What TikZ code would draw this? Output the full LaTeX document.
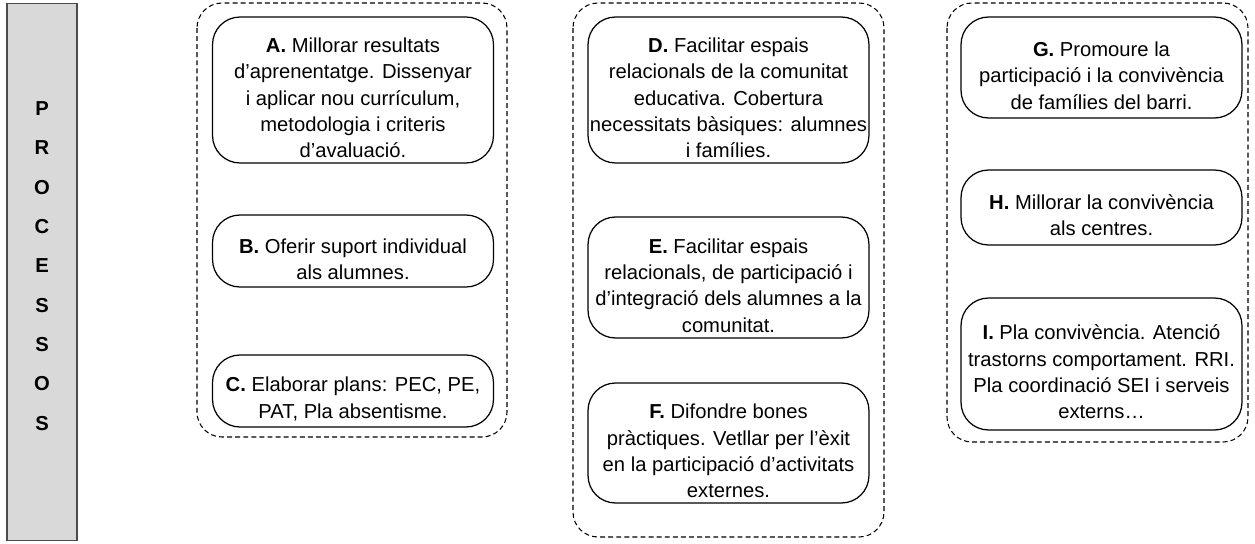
\documentclass[tikz,border=0pt]{standalone}
\usepackage{fontspec}
\setmainfont{Liberation Sans}
\usetikzlibrary{positioning}
\colorlet{colorBAR}{black!15}
\colorlet{colorBARLINE}{black!70}
\newcommand{\tag}[1]{\rule{0pt}{17.5pt}\textbf{#1.}}
\tikzset{
   every path/.style={>=stealth},
   proc/.style={draw, rounded corners=0.55cm, line width=0.7pt, align=center,
      minimum width=5.62cm, inner sep=1pt, font=\fontsize{11.5}{15}\selectfont},
   grp/.style={draw, dash pattern=on 2.8pt off 1.8pt, rounded corners=0.5cm, line width=0.6pt},
   bar/.style={draw=colorBARLINE, fill=colorBAR, line width=0.6pt,
      minimum width=1.4cm, minimum height=10.76cm, inner sep=0pt},
   barlbl/.style={align=center, font=\fontsize{11.5}{22.4}\selectfont\bfseries},
}

\begin{document}
\begin{tikzpicture}[x=0.02cm, y=-0.02cm]
    \useasboundingbox (0,0) rectangle (1255,544);

    % side bar
    \node (bar) [bar] at (42,272) {};
    \node (procs) [barlbl] at (42,266)
       {P\\R\\O\\C\\E\\S\\S\\O\\S};

    % groups
    \draw [grp] (197,3) rectangle (507,437);
    \draw [grp] (573,3) rectangle (884,537);
    \draw [grp] (947,3) rectangle (1248,442);

    % first column
    \node (A) [proc, minimum height=2.92cm] at (353,90)
       {\tag{A} Millorar resultats\\d’aprenentatge. Dissenyar\\i aplicar nou currículum,\\metodologia i criteris\\d’avaluació.};
    \node (B) [proc, minimum height=1.44cm] at (353,251)
       {\tag{B} Oferir suport individual\\als alumnes.};
    \node (C) [proc, minimum height=1.44cm] at (353,391)
       {\tag{C} Elaborar plans: PEC, PE,\\PAT, Pla absentisme.};

    % second column
    \node (D) [proc, minimum height=2.92cm] at (728.5,90)
       {\tag{D} Facilitar espais\\relacionals de la comunitat\\educativa. Cobertura\\necessitats bàsiques: alumnes\\i famílies.};
    \node (E) [proc, minimum height=2.42cm] at (728.5,277.5)
       {\tag{E} Facilitar espais\\relacionals, de participació i\\d’integració dels alumnes a la\\comunitat.};
    \node (F) [proc, minimum height=2.4cm] at (728.5,443)
       {\tag{F} Difondre bones\\pràctiques. Vetllar per l’èxit\\en la participació d’activitats\\externes.};

    % third column
    \node (G) [proc, minimum height=2.02cm] at (1101.5,67.5)
       {\tag{G} Promoure la\\participació i la convivència\\de famílies del barri.};
    \node (H) [proc, minimum height=1.5cm] at (1101.5,207.5)
       {\tag{H} Millorar la convivència\\als centres.};
    \node (I) [proc, minimum height=2.64cm] at (1101.5,364)
       {\tag{I} Pla convivència. Atenció\\trastorns comportament. RRI.\\Pla coordinació SEI i serveis\\externs…};
\end{tikzpicture}
\end{document}
